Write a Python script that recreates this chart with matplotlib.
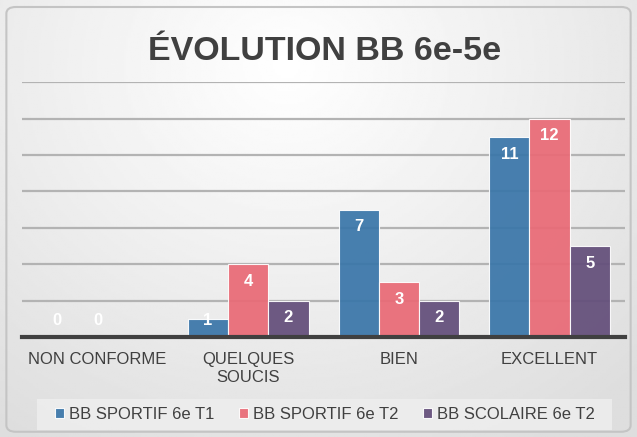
import matplotlib
matplotlib.use("Agg")
import matplotlib.pyplot as plt
from matplotlib.patches import FancyBboxPatch, Rectangle
import numpy as np

categories = ["NON CONFORME", "QUELQUES\nSOUCIS", "BIEN", "EXCELLENT"]
series_names = ["BB SPORTIF 6e T1", "BB SPORTIF 6e T2", "BB SCOLAIRE 6e T2"]
sportif_t1 = [0, 1, 7, 11]
sportif_t2 = [0, 4, 3, 12]
scolaire_t2 = [np.nan, 2, 2, 5]
colors = ["#3a76a9", "#e96a76", "#634e7a"]

plt.rcParams["font.family"] = ["Liberation Sans", "DejaVu Sans"]

fig = plt.figure(figsize=(6.37, 4.37), dpi=100)

# background gradient + rounded border
bg = fig.add_axes([0, 0, 1, 1], zorder=-10)
yy, xx = np.mgrid[0:1:200j, 0:1:300j]
r = np.sqrt(((xx - 0.45) * 1.3) ** 2 + ((yy - 0.15) * 1.0) ** 2)
shade = 1.0 - 0.13 * np.clip(r, 0, 1)
bg.imshow(shade, cmap="gray", vmin=0, vmax=1, extent=[0, 1, 0, 1],
          aspect="auto", origin="upper")
bg.set_xlim(0, 1)
bg.set_ylim(0, 1)
bg.axis("off")
bg.add_patch(FancyBboxPatch((0.01, 0.012), 0.98, 0.972,
                            boxstyle="round,pad=0,rounding_size=0.015",
                            fill=False, edgecolor="#c4c4c4", linewidth=1.5,
                            transform=bg.transAxes))
# legend background box
bg.add_patch(Rectangle((0.058, 0.016), 0.903, 0.071, facecolor="#eeeeee",
                       edgecolor="none", alpha=0.85, transform=bg.transAxes))

ax = fig.add_axes([0.035, 0.229, 0.946, 0.583])
ax.patch.set_alpha(0)
x = np.arange(len(categories))
w = 0.267
all_series = [sportif_t1, sportif_t2, scolaire_t2]
for i, vals in enumerate(all_series):
    pos = x + (i - 1) * w
    ax.bar(pos, vals, width=w, color=colors[i], alpha=0.93,
           edgecolor=(1, 1, 1, 0.5), linewidth=0.8, zorder=3,
           label=series_names[i])
    for p, v in zip(pos, vals):
        if np.isnan(v):
            continue
        ly = max(v - 0.95, 0.9)
        ax.text(p, ly, str(int(v)), ha="center", va="center", color="white",
                fontsize=12, fontweight="bold", zorder=4)

ax.set_xlim(-0.5, 3.5)
ax.set_ylim(0, 14)
ax.set_yticks(np.arange(2, 15, 2))
ax.yaxis.grid(True, color="#b3b3b3", linewidth=1.6, zorder=0)
ax.tick_params(axis="y", left=False, labelleft=False)
ax.tick_params(axis="x", bottom=False, pad=7)
ax.set_xticks(x)
ax.set_xticklabels(categories, fontsize=12, color="#404040", linespacing=1.3)
for s in ["top", "right", "left"]:
    ax.spines[s].set_visible(False)
ax.spines["bottom"].set_color("#404040")
ax.spines["bottom"].set_linewidth(3)
ax.spines["bottom"].set_zorder(5)

fig.text(0.509, 0.863, "ÉVOLUTION BB 6e-5e", ha="center", va="baseline",
         fontsize=24.5, fontweight="bold", color="#404040")

leg = fig.legend(*ax.get_legend_handles_labels(), loc="center",
                 bbox_to_anchor=(0.51, 0.051), ncol=3, frameon=False,
                 fontsize=12, handlelength=0.55, handleheight=0.55,
                 handletextpad=0.3, columnspacing=1.45, borderpad=0.2)
for t in leg.get_texts():
    t.set_color("#404040")

fig.savefig("out.png", dpi=100)
